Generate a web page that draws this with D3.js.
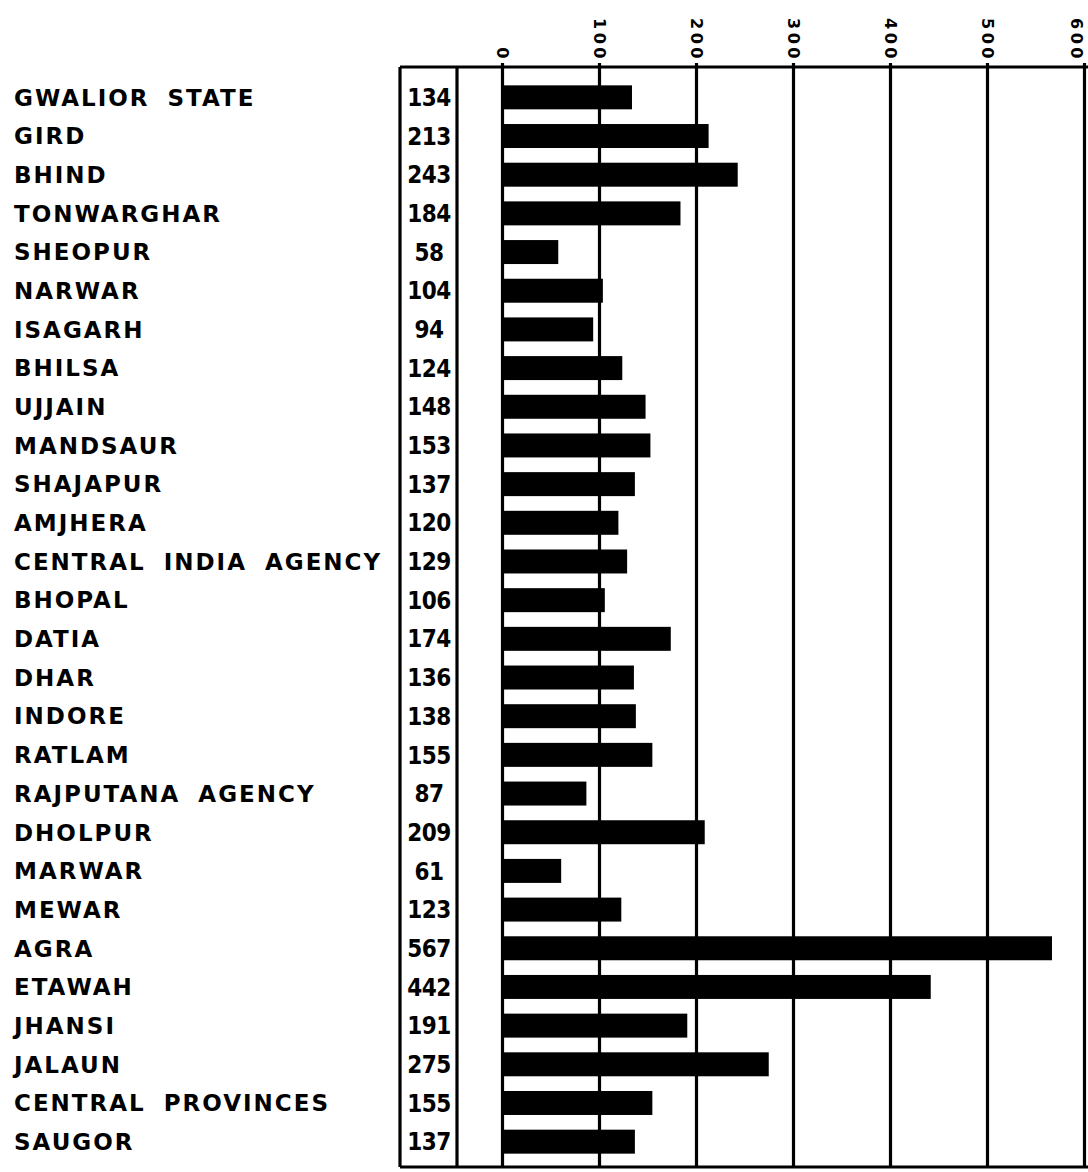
<!DOCTYPE html>
<html>
<head>
<meta charset="utf-8">
<script src="https://cdn.jsdelivr.net/npm/d3@7"></script>
<style>
  html, body { margin: 0; padding: 0; background: #fff; }
  svg { display: block; }
</style>
</head>
<body>
<script>
const categories = [
  "GWALIOR STATE", "GIRD", "BHIND", "TONWARGHAR", "SHEOPUR", "NARWAR", "ISAGARH",
  "BHILSA", "UJJAIN", "MANDSAUR", "SHAJAPUR", "AMJHERA", "CENTRAL INDIA AGENCY",
  "BHOPAL", "DATIA", "DHAR", "INDORE", "RATLAM", "RAJPUTANA AGENCY", "DHOLPUR",
  "MARWAR", "MEWAR", "AGRA", "ETAWAH", "JHANSI", "JALAUN", "CENTRAL PROVINCES", "SAUGOR"
];
const values = [
  134, 213, 243, 184, 58, 104, 94,
  124, 148, 153, 137, 120, 129,
  106, 174, 136, 138, 155, 87, 209,
  61, 123, 567, 442, 191, 275, 155, 137
];
const tickValues = [0, 100, 200, 300, 400, 500, 600];

const W = 1088, H = 1172;
const frameTop = 67, frameBottom = 1167;
const boxLeft = 400, sepX = 457;

const svg = d3.select("body").append("svg")
  .attr("width", W).attr("height", H)
  .style("background", "#fff");

const x = d3.scaleLinear().domain([0, 600]).range([502, 1084]);
const y = d3.scaleBand().domain(categories).range([78, 1161]).paddingInner(0).paddingOuter(0);

const data = categories.map((c, i) => ({ name: c, value: values[i] }));

// Axis with gridlines
const axis = d3.axisTop(x).tickValues(tickValues).tickSize(-(frameBottom - frameTop)).tickSizeOuter(0)
  .tickFormat(d3.format("d"));
const gAxis = svg.append("g").attr("transform", `translate(0,${frameTop})`).call(axis);
gAxis.select(".domain").remove();
gAxis.selectAll(".tick line")
  .attr("stroke", "#000").attr("stroke-width", 3.2).attr("y1", -4);
gAxis.selectAll(".tick text")
  .attr("transform", "rotate(90)")
  .attr("x", -5).attr("y", 0)
  .attr("dy", (d, i, n) => i === n.length - 1 ? "0.82em" : "0.36em")
  .attr("text-anchor", "end")
  .attr("fill", "#000")
  .style("font-family", "'DejaVu Sans', sans-serif")
  .style("font-weight", "bold")
  .style("font-size", "16px")
  .style("letter-spacing", "3.5px");

// Frame lines
const frame = svg.append("g").attr("stroke", "#000").attr("stroke-width", 3.2).attr("fill", "none");
frame.append("line").attr("x1", boxLeft).attr("x2", W).attr("y1", frameTop).attr("y2", frameTop);
frame.append("line").attr("x1", boxLeft).attr("x2", W).attr("y1", frameBottom).attr("y2", frameBottom);
frame.append("line").attr("x1", boxLeft).attr("x2", boxLeft).attr("y1", frameTop).attr("y2", frameBottom);
frame.append("line").attr("x1", sepX).attr("x2", sepX).attr("y1", frameTop).attr("y2", frameBottom);

// Bars
const barH = y.bandwidth() * 0.62;
svg.append("g").selectAll("rect").data(data).join("rect")
  .attr("x", x(0))
  .attr("y", d => y(d.name) + (y.bandwidth() - barH) / 2)
  .attr("width", d => x(d.value) - x(0))
  .attr("height", barH)
  .attr("fill", "#000");

// Category labels
svg.append("g").selectAll("text").data(data).join("text")
  .attr("x", 14)
  .attr("y", d => y(d.name) + y.bandwidth() / 2)
  .attr("dy", "0.36em")
  .attr("fill", "#000")
  .style("font-family", "'DejaVu Sans', sans-serif")
  .style("font-weight", "bold")
  .style("font-size", "23px")
  .style("letter-spacing", "2px")
  .style("word-spacing", "8px")
  .text(d => d.name);

// Value labels in the column
svg.append("g").selectAll("text").data(data).join("text")
  .attr("x", (boxLeft + sepX) / 2 + 0.5)
  .attr("y", d => y(d.name) + y.bandwidth() / 2)
  .attr("dy", "0.36em")
  .attr("text-anchor", "middle")
  .attr("fill", "#000")
  .style("font-family", "'DejaVu Sans Condensed', 'DejaVu Sans', sans-serif")
  .style("font-weight", "bold")
  .style("font-size", "24px")
  .style("letter-spacing", "-0.5px")
  .text(d => d.value);
</script>
</body>
</html>
